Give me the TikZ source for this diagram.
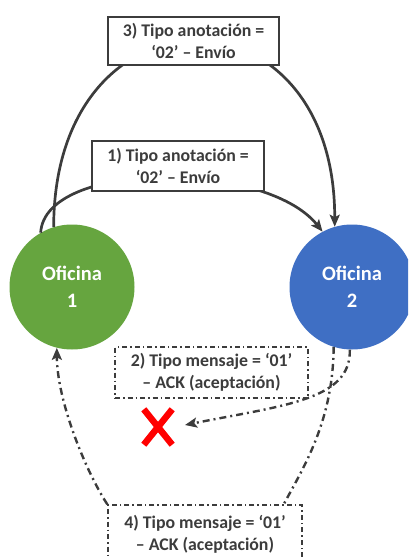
\documentclass[tikz,border=0pt]{standalone}
\usepackage{fontspec}
\setmainfont{Carlito}
\usetikzlibrary{arrows.meta,calc}
\definecolor{lgray}{HTML}{3C3C3C}
\definecolor{ofgreen}{HTML}{66A53F}
\definecolor{ofblue}{HTML}{3F6FC4}
\tikzset{
  office/.style={circle, minimum size=125pt, inner sep=0pt, draw=none, text=white,
    font=\fontsize{20.5}{27}\selectfont\bfseries, align=center},
  labelbox/.style={draw=lgray, line width=1.6pt, fill=white, text=lgray, align=center,
    font=\fontsize{17.8}{22}\selectfont\bfseries, inner sep=0pt},
  dashbox/.style={labelbox, line width=1.4pt, dash pattern=on 5pt off 3pt on 1.5pt off 3pt},
  conn/.style={draw=lgray, line width=2.7pt},
  dconn/.style={draw=lgray, line width=2.4pt, dash pattern=on 7pt off 4pt on 2pt off 4pt},
  tip/.style={-{Stealth[length=12pt,width=10pt,inset=2.5pt]}},
}
\begin{document}
\begin{tikzpicture}[x=1pt,y=-1pt]
\useasboundingbox (0,0) rectangle (408,557);
\clip (0,0) rectangle (408,557);
% circles
\node[office, fill=ofgreen] (o1) at (72,287) {Oficina\\1};
\node[office, fill=ofblue] (o2) at (352,287) {Oficina\\2};
% boxes (positions fixed first, drawn later)
\path (193.5,41) coordinate (b3c) (178,166) coordinate (b1c);
% solid connectors
\draw[conn, tip] (o1.107) .. controls (54,-20) and (335,-20) .. (o2.106);
\draw[conn, tip] (o1.120) .. controls (45,160) and (265,160) .. (o2.118);
% dash-dot connectors
\coordinate (xtip) at (185,425);
\draw[dconn, tip] (o2.-92) .. controls (351,400) and (285,405) .. (xtip);
\node[dashbox, minimum width=194pt, minimum height=58pt] (b4) at (205,534) {4) Tipo mensaje = ‘01’\\– ACK (aceptación)};
\draw[dconn] (o2.-107) .. controls (333,420) and (305,465) .. ($(b4.north east)+(-19,0)$);
\draw[dconn, tip] ($(b4.north west)+(0,0)$) .. controls (85,470) and (57,400) .. (o1.-104);
\node[labelbox, minimum width=171pt, minimum height=48pt] (b3) at (b3c) {3) Tipo anotación =\\‘02’ – Envío};
\node[labelbox, minimum width=172pt, minimum height=50pt] (b1) at (b1c) {1) Tipo anotación =\\‘02’ – Envío};
\node[dashbox, minimum width=193pt, minimum height=51pt] (b2) at (211.5,372.5) {2) Tipo mensaje = ‘01’\\– ACK (aceptación)};
% red cross
\node[minimum width=28pt, minimum height=35pt, inner sep=0pt] (xm) at (158,427) {};
\draw[red, line width=6.5pt] (xm.north west) -- (xm.south east);
\draw[red, line width=6.5pt] (xm.south west) -- (xm.north east);
\end{tikzpicture}
\end{document}
